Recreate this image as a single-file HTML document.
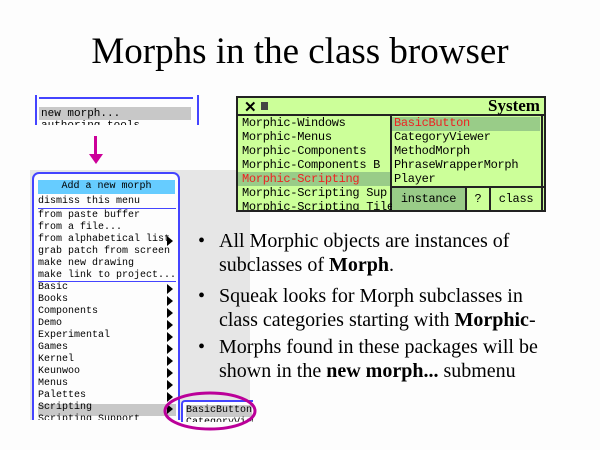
<!DOCTYPE html>
<html><head><style>
body{margin:0;width:600px;height:450px;background:#fdfdfd;position:relative;overflow:hidden;font-family:"Liberation Serif",serif}
.a{position:absolute}
.m{font-family:"Liberation Mono",monospace;font-size:10px;line-height:12px;white-space:nowrap;color:#000}
.b{font-family:"Liberation Mono",monospace;font-size:12px;line-height:14px;white-space:nowrap;letter-spacing:-0.3px}
.tri{position:absolute;right:5px;width:0;height:0;border-left:6px solid #000;border-top:5px solid transparent;border-bottom:5px solid transparent}
.bul{font-size:20px;line-height:24px}
</style></head><body>
<div class="a" style="left:0;top:30px;width:600px;text-align:center;font-size:37px">Morphs in the class browser</div>
<div class="a" style="left:30px;top:170px;width:220px;height:250px;background:#e6e6e6"></div>
<!-- top small menu -->
<div class="a" style="left:35px;top:95px;width:160px;height:30px;background:#fdfdfd;border-left:2px solid #4444ff;border-right:2px solid #4444ff;overflow:hidden">
<div class="a" style="left:2px;top:2px;width:154px;height:2px;background:#4444ff"></div>
<div class="a" style="left:2px;top:12px;width:152px;height:13px;background:#c8c8c8"></div>
<div class="a m" style="left:4px;top:13px;font-size:11px">new morph...</div>
<div class="a m" style="left:4px;top:25px;font-size:11px">authoring tools</div>
</div>
<div class="a" style="left:94px;top:136px;width:3px;height:20px;background:#cc0099"></div>
<div class="a" style="left:89px;top:154px;border-top:10px solid #cc0099;border-left:7px solid transparent;border-right:7px solid transparent"></div>
<!-- big menu -->
<div class="a" style="left:32px;top:172px;width:148px;height:248px;overflow:hidden">
<div class="a" style="left:0;top:0;width:144px;height:260px;background:#fdfdfd;border:2px solid #4444ff;border-radius:7px;overflow:hidden">
<div class="a m" style="left:4px;top:6px;width:137px;height:14px;background:#66ccff;text-align:center;line-height:14px">Add a new morph</div>
<div class="a m" style="left:4px;top:22px">dismiss this menu</div>
<div class="a" style="left:4px;top:34px;width:138px;height:1px;background:#4444ff"></div>
<div class="a m" style="left:4px;top:36px">from paste buffer<br>from a file...<br>from alphabetical list<br>grab patch from screen<br>make new drawing<br>make link to project...</div>
<div class="tri" style="top:62px"></div>
<div class="a" style="left:4px;top:107px;width:138px;height:1px;background:#4444ff"></div>
<div class="a" style="left:4px;top:230px;width:138px;height:12px;background:#c8c8c8"></div>
<div class="a m" style="left:4px;top:108px">Basic<br>Books<br>Components<br>Demo<br>Experimental<br>Games<br>Kernel<br>Keunwoo<br>Menus<br>Palettes<br>Scripting<br>Scripting Support</div>
<div class="tri" style="top:110px"></div><div class="tri" style="top:122px"></div><div class="tri" style="top:134px"></div><div class="tri" style="top:146px"></div><div class="tri" style="top:158px"></div><div class="tri" style="top:170px"></div><div class="tri" style="top:182px"></div><div class="tri" style="top:194px"></div><div class="tri" style="top:206px"></div><div class="tri" style="top:218px"></div><div class="tri" style="top:230px"></div>
</div></div>
<!-- submenu -->
<div class="a" style="left:181px;top:400px;width:70px;height:20px;background:#fdfdfd;border-left:2px solid #4444ff;border-top:2px solid #4444ff;border-radius:4px 0 0 0;overflow:hidden">
<div class="a m" style="left:3px;top:3px;background:#c8c8c8;width:66px">BasicButton</div>
<div class="a m" style="left:3px;top:15px">CategoryViewer</div>
</div>
<svg class="a" style="left:0;top:0" width="600" height="450"><ellipse cx="210" cy="411" rx="45" ry="18" fill="none" stroke="#bb0099" stroke-width="3"/></svg>
<!-- browser -->
<div class="a" style="left:236px;top:96px;width:310px;height:116px;background:#ccff99;border:2px solid #222;box-sizing:border-box;overflow:hidden">
<div class="a" style="left:0;top:0;width:310px;height:16px;border-bottom:2px solid #222;background:#ccff99"></div>
<div class="a" style="left:6px;top:0;font:bold 15px 'Liberation Sans',sans-serif">✕</div>
<div class="a" style="left:23px;top:4px;width:7px;height:8px;background:#444"></div>
<div class="a" style="left:250px;top:-2px;font-size:17px;font-weight:bold">System B</div>
<div class="a" style="left:152px;top:18px;width:2px;height:100px;background:#222"></div>
<div class="a" style="left:0;top:74px;width:152px;height:14px;background:#99cc88"></div>
<div class="a b" style="left:4px;top:18px">Morphic-Windows<br>Morphic-Menus<br>Morphic-Components<br>Morphic-Components B<br><span style="color:#ee2222">Morphic-Scripting</span><br>Morphic-Scripting Sup<br>Morphic-Scripting Tile</div>
<div class="a" style="left:154px;top:19px;width:148px;height:14px;background:#99cc88"></div>
<div class="a b" style="left:156px;top:18px">
<span style="color:#ee2222">BasicButton</span><br>CategoryViewer<br>MethodMorph<br>PhraseWrapperMorph<br>Player</div>
<div class="a" style="left:154px;top:88px;width:154px;height:2px;background:#222"></div>
<div class="a b" style="left:154px;top:90px;width:73px;height:22px;background:#99cc88;text-align:center;line-height:22px">instance</div>
<div class="a" style="left:227px;top:90px;width:2px;height:24px;background:#222"></div>
<div class="a b" style="left:229px;top:90px;width:22px;text-align:center;line-height:22px">?</div>
<div class="a" style="left:251px;top:90px;width:2px;height:24px;background:#222"></div>
<div class="a b" style="left:253px;top:90px;width:50px;text-align:center;line-height:22px">class</div>
<div class="a" style="left:303px;top:18px;width:2px;height:100px;background:#222"></div>
</div>
<!-- bullets -->
<div class="a bul" style="left:198px;top:229px">•</div>
<div class="a bul" style="left:219px;top:229px">All Morphic objects are instances of<br>subclasses of <b>Morph</b>.</div>
<div class="a bul" style="left:198px;top:284px">•</div>
<div class="a bul" style="left:219px;top:284px">Squeak looks for Morph subclasses in<br>class categories starting with <b>Morphic</b>-</div>
<div class="a bul" style="left:198px;top:335px">•</div>
<div class="a bul" style="left:219px;top:335px">Morphs found in these packages will be<br>shown in the <b>new morph...</b> submenu</div>
</body></html>
